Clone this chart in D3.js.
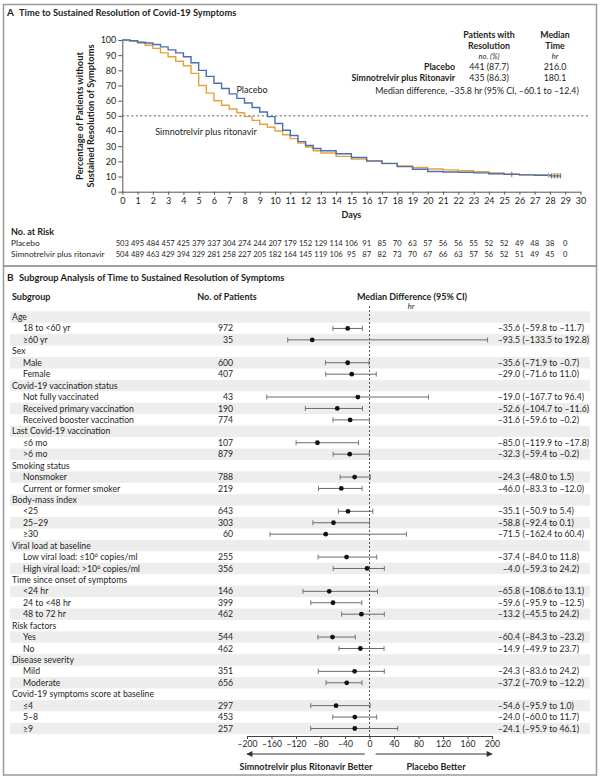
<!DOCTYPE html>
<html>
<head>
<meta charset="utf-8">
<script src="https://cdn.jsdelivr.net/npm/d3@7"></script>
<style>
  body { margin: 0; background: #fff; }
  svg { font-family: Lato, "Open Sans", sans-serif; fill: #231f20; }
  .bold { font-weight: bold; }
  .it { font-style: italic; }
</style>
</head>
<body>
<div id="chart"></div>
<script>
// ---- panel A data ----
var kmDays = [0, 0.5, 1, 1.5, 2, 2.5, 3, 3.5, 4, 4.5, 5, 5.5, 6, 6.5, 7, 7.5, 8, 8.5, 9, 9.5, 10, 10.5, 11, 11.5, 12, 12.5, 13, 14, 15, 16, 17, 18, 19, 20, 21, 22, 23, 24, 25, 26, 27, 28, 28.7];
var placeboPct = [100, 99.5, 98.5, 98, 97, 95.5, 93.5, 91.5, 89, 85, 80, 76, 71.5, 68, 64.5, 61.5, 58.5, 55.5, 52.5, 49.5, 45, 40.5, 37, 33, 30.5, 28.5, 27, 25, 22.5, 20.3, 18.7, 16.5, 14.8, 13.3, 13, 12.8, 12.4, 11.8, 11.4, 11.1, 10.8, 10.4, 10.4];
var simnoPct = [100, 99.3, 98, 96.5, 94.5, 91.5, 89, 86, 83, 78, 70, 65, 60, 57, 54.5, 52, 49.5, 47, 44.5, 42.5, 40, 37.5, 35, 32, 29.5, 27, 25.5, 23.3, 21.5, 20, 18.5, 17, 16, 15, 14.4, 13.9, 13.2, 12.3, 11.7, 11.2, 10.9, 10.6, 10.6];
var censorPlacebo = [25.5, 28.1, 28.3, 28.5, 28.7];
var censorSimno = [27.9, 28.2, 28.4, 28.6];
var riskDays = d3.range(0, 30);
var riskPlacebo = [503, 495, 484, 457, 425, 379, 337, 304, 274, 244, 207, 179, 152, 129, 114, 106, 91, 85, 70, 63, 57, 56, 56, 55, 52, 52, 49, 48, 38, 0];
var riskSimno = [504, 489, 463, 429, 394, 329, 281, 258, 227, 205, 182, 164, 145, 119, 106, 95, 87, 82, 73, 70, 67, 66, 63, 57, 56, 52, 51, 49, 45, 0];
var xTicksDays = d3.range(0, 31);
var yTicksPct = d3.range(0, 101, 10);

// ---- panel B data ----
var subgroups = ["Age", "18 to <60 yr", "\u226560 yr", "Sex", "Male", "Female",
  "Covid-19 vaccination status", "Not fully vaccinated", "Received primary vaccination", "Received booster vaccination",
  "Last Covid-19 vaccination", "\u22646 mo", ">6 mo",
  "Smoking status", "Nonsmoker", "Current or former smoker",
  "Body-mass index", "<25", "25\u201329", "\u226530",
  "Viral load at baseline", "Low viral load: \u226410^6 copies/ml", "High viral load: >10^6 copies/ml",
  "Time since onset of symptoms", "<24 hr", "24 to <48 hr", "48 to 72 hr",
  "Risk factors", "Yes", "No",
  "Disease severity", "Mild", "Moderate",
  "Covid-19 symptoms score at baseline", "\u22644", "5\u20138", "\u22659"];
var patients = [null, 972, 35, null, 600, 407, null, 43, 190, 774, null, 107, 879, null, 788, 219,
  null, 643, 303, 60, null, 255, 356, null, 146, 399, 462, null, 544, 462, null, 351, 656, null, 297, 453, 257];
var medDiff = [null, -35.6, -93.5, null, -35.6, -29.0, null, -19.0, -52.6, -31.6, null, -85.0, -32.3, null, -24.3, -46.0,
  null, -35.1, -58.8, -71.5, null, -37.4, -4.0, null, -65.8, -59.6, -13.2, null, -60.4, -14.9, null, -24.3, -37.2, null, -54.6, -24.0, -24.1];
var ciLow = [null, -59.8, -133.5, null, -71.9, -71.6, null, -167.7, -104.7, -59.6, null, -119.9, -59.4, null, -48.0, -83.3,
  null, -50.9, -92.4, -162.4, null, -84.0, -59.3, null, -108.6, -95.9, -45.5, null, -84.3, -49.9, null, -83.6, -70.9, null, -95.9, -60.0, -95.9];
var ciHigh = [null, -11.7, 192.8, null, -0.7, 11.0, null, 96.4, -11.6, -0.2, null, -17.8, -0.2, null, 1.5, -12.0,
  null, 5.4, 0.1, 60.4, null, 11.8, 24.2, null, 13.1, -12.5, 24.2, null, -23.2, 23.7, null, 24.2, -12.2, null, 1.0, 11.7, 46.1];
var diffTicks = d3.range(-200, 201, 40);

var blue = "#4a6fb0", orange = "#e8a23a", ink = "#231f20";
var fmt = d3.format(".1f");
function num(v) { return fmt(v).replace("\u2212", "\u2013"); }

var svg = d3.select("#chart").append("svg")
    .attr("width", 600)
    .attr("height", 780);

// frames
svg.append("rect").attr("x", 3.5).attr("y", 4.5).attr("width", 593).attr("height", 261.5)
    .attr("fill", "none").attr("stroke", "#9a9a9a").attr("stroke-width", 1.5);
svg.append("rect").attr("x", 3.5).attr("y", 266).attr("width", 593).attr("height", 509)
    .attr("fill", "none").attr("stroke", "#9a9a9a").attr("stroke-width", 1.5);

// ================= panel A =================
svg.append("text").attr("x", 7).attr("y", 16).attr("class", "bold").attr("font-size", 10).text("A");
svg.append("text").attr("x", 19).attr("y", 16).attr("class", "bold").attr("font-size", 9.3)
    .text("Time to Sustained Resolution of Covid-19 Symptoms");

var x = d3.scaleLinear().domain([0, 30]).range([122.3, 580.5]);
var y = d3.scaleLinear().domain([0, 100]).range([191.7, 40]);

var xaxis = d3.axisBottom(x).tickValues(xTicksDays).tickSize(3).tickSizeOuter(0).tickPadding(3);
var yaxis = d3.axisLeft(y).tickValues(yTicksPct).tickSize(4).tickSizeOuter(0).tickPadding(2);

var gx = svg.append('g').attr("transform", "translate(0," + y(0) + ")").call(xaxis);
var gy = svg.append('g').attr("transform", "translate(" + x(0) + ",0)").call(yaxis);
[gx, gy].forEach(function (g) {
    g.selectAll("path, line").attr("stroke", "#555");
    g.selectAll("text").attr("font-size", 9).attr("fill", ink).attr("font-family", "Lato, sans-serif");
});

svg.append("text").attr("x", (x(0) + x(30)) / 2).attr("y", 218).attr("text-anchor", "middle")
    .attr("class", "bold").attr("font-size", 9).text("Days");

var ylab = svg.append("text").attr("transform", "translate(83,116) rotate(-90)")
    .attr("text-anchor", "middle").attr("class", "bold").attr("font-size", 9.3);
ylab.append("tspan").attr("x", 0).attr("y", 0).text("Percentage of Patients without");
ylab.append("tspan").attr("x", 0).attr("y", 10.5).text("Sustained Resolution of Symptoms");

// 50% reference
svg.append("line").attr("x1", x(0)).attr("x2", 588).attr("y1", y(50)).attr("y2", y(50))
    .attr("stroke", "#555").attr("stroke-dasharray", "2,2.5").attr("stroke-width", 1);

var line = d3.line()
    .x(function (d) { return x(d[0]); })
    .y(function (d) { return y(d[1]); })
    .curve(d3.curveStepAfter);

var simnoPts = kmDays.map(function (d, i) { return [d, simnoPct[i]]; });
var placeboPts = kmDays.map(function (d, i) { return [d, placeboPct[i]]; });

svg.append("path").attr("d", line(simnoPts)).attr("fill", "none").attr("stroke", orange).attr("stroke-width", 1.4);
svg.append("path").attr("d", line(placeboPts)).attr("fill", "none").attr("stroke", blue).attr("stroke-width", 1.4);

function valueAt(days, pct, t) {
    var i = d3.bisectRight(days, t) - 1;
    return pct[Math.max(0, i)];
}
svg.selectAll(".cs").data(censorSimno).enter().append("line")
    .attr("x1", function (d) { return x(d); }).attr("x2", function (d) { return x(d); })
    .attr("y1", function (d) { return y(valueAt(kmDays, simnoPct, d)) - 2.5; })
    .attr("y2", function (d) { return y(valueAt(kmDays, simnoPct, d)) + 2.5; })
    .attr("stroke", orange).attr("stroke-width", 1);
svg.selectAll(".cp").data(censorPlacebo).enter().append("line")
    .attr("x1", function (d) { return x(d); }).attr("x2", function (d) { return x(d); })
    .attr("y1", function (d) { return y(valueAt(kmDays, placeboPct, d)) - 2.5; })
    .attr("y2", function (d) { return y(valueAt(kmDays, placeboPct, d)) + 2.5; })
    .attr("stroke", blue).attr("stroke-width", 1);

svg.append("text").attr("x", 252).attr("y", 93).attr("text-anchor", "middle").attr("font-size", 9).text("Placebo");
svg.append("text").attr("x", 206).attr("y", 135).attr("text-anchor", "middle").attr("font-size", 9).text("Simnotrelvir plus ritonavir");

// summary table
var tb = svg.append("g").attr("font-size", 8.8);
tb.append("text").attr("x", 489).attr("y", 38).attr("text-anchor", "middle").attr("class", "bold").text("Patients with");
tb.append("text").attr("x", 489).attr("y", 49).attr("text-anchor", "middle").attr("class", "bold").text("Resolution");
tb.append("text").attr("x", 489).attr("y", 59).attr("text-anchor", "middle").attr("class", "it").attr("font-size", 7.5).text("no. (%)");
tb.append("text").attr("x", 555).attr("y", 38).attr("text-anchor", "middle").attr("class", "bold").text("Median");
tb.append("text").attr("x", 555).attr("y", 49).attr("text-anchor", "middle").attr("class", "bold").text("Time");
tb.append("text").attr("x", 555).attr("y", 59).attr("text-anchor", "middle").attr("class", "it").attr("font-size", 7.5).text("hr");
tb.append("text").attr("x", 455).attr("y", 70).attr("text-anchor", "end").attr("class", "bold").text("Placebo");
tb.append("text").attr("x", 455).attr("y", 80.5).attr("text-anchor", "end").attr("class", "bold").text("Simnotrelvir plus Ritonavir");
tb.append("text").attr("x", 489).attr("y", 70).attr("text-anchor", "middle").text("441 (87.7)");
tb.append("text").attr("x", 489).attr("y", 80.5).attr("text-anchor", "middle").text("435 (86.3)");
tb.append("text").attr("x", 555).attr("y", 70).attr("text-anchor", "middle").text("216.0");
tb.append("text").attr("x", 555).attr("y", 80.5).attr("text-anchor", "middle").text("180.1");
tb.append("text").attr("x", 477).attr("y", 94).attr("text-anchor", "middle")
    .text("Median difference, \u201335.8 hr (95% CI, \u201360.1 to \u201312.4)");

// number at risk
svg.append("text").attr("x", 11).attr("y", 235).attr("class", "bold").attr("font-size", 9).text("No. at Risk");
svg.append("text").attr("x", 11).attr("y", 246).attr("font-size", 8.3).text("Placebo");
svg.append("text").attr("x", 11).attr("y", 256.5).attr("font-size", 8.3).text("Simnotrelvir plus ritonavir");
svg.selectAll(".rp").data(riskPlacebo).enter().append("text")
    .attr("x", function (d, i) { return x(riskDays[i]); }).attr("y", 246)
    .attr("text-anchor", "middle").attr("font-size", 7.6).text(function (d) { return d; });
svg.selectAll(".rs").data(riskSimno).enter().append("text")
    .attr("x", function (d, i) { return x(riskDays[i]); }).attr("y", 256.5)
    .attr("text-anchor", "middle").attr("font-size", 7.6).text(function (d) { return d; });

// ================= panel B =================
svg.append("text").attr("x", 7).attr("y", 281).attr("class", "bold").attr("font-size", 10).text("B");
svg.append("text").attr("x", 19).attr("y", 281).attr("class", "bold").attr("font-size", 9.3)
    .text("Subgroup Analysis of Time to Sustained Resolution of Symptoms");

svg.append("text").attr("x", 12).attr("y", 300).attr("class", "bold").attr("font-size", 9).text("Subgroup");
svg.append("text").attr("x", 227).attr("y", 300).attr("text-anchor", "middle").attr("class", "bold").attr("font-size", 9).text("No. of Patients");
svg.append("text").attr("x", 412).attr("y", 300).attr("text-anchor", "middle").attr("class", "bold").attr("font-size", 9).text("Median Difference (95% CI)");
svg.append("text").attr("x", 411).attr("y", 309).attr("text-anchor", "middle").attr("class", "it").attr("font-size", 7.5).text("hr");

var fx = d3.scaleLinear().domain([-200, 200]).range([247, 492]);
var fy = d3.scaleBand().domain(d3.range(subgroups.length)).range([311.3, 311.3 + 37 * 11.43]);
var rowMid = function (i) { return fy(i) + fy.bandwidth() / 2; };

svg.selectAll(".stripe").data(d3.range(subgroups.length).filter(function (i) { return i % 2 === 0; }))
    .enter().append("rect")
    .attr("x", 10).attr("width", 580)
    .attr("y", function (i) { return fy(i); })
    .attr("height", fy.bandwidth())
    .attr("fill", "#ededed");

// zero line
svg.append("line").attr("x1", fx(0)).attr("x2", fx(0)).attr("y1", 306).attr("y2", 736)
    .attr("stroke", "#444").attr("stroke-dasharray", "2,2").attr("stroke-width", 0.9);

var rows = svg.append("g").attr("font-size", 8.7);
rows.selectAll(".lab").data(subgroups).enter().append("text")
    .attr("x", function (d, i) { return patients[i] === null ? 12 : 23; })
    .attr("y", function (d, i) { return rowMid(i); })
    .attr("dy", "0.35em")
    .each(function (d) {
        // "10^6" -> 10 with a raised 6
        var parts = d.split("^6");
        var t = d3.select(this);
        t.append("tspan").text(parts[0]);
        if (parts.length > 1) {
            t.append("tspan").attr("dy", -3).attr("font-size", 6).text("6");
            t.append("tspan").attr("dy", 3).text(parts[1]);
        }
    });

rows.selectAll(".n").data(patients).enter().append("text")
    .attr("x", 233).attr("text-anchor", "end")
    .attr("y", function (d, i) { return rowMid(i); })
    .attr("dy", "0.35em")
    .text(function (d) { return d === null ? "" : d; });

rows.selectAll(".est").data(medDiff).enter().append("text")
    .attr("x", 520).attr("text-anchor", "end")
    .attr("y", function (d, i) { return rowMid(i); })
    .attr("dy", "0.35em")
    .text(function (d) { return d === null ? "" : num(d); });

rows.selectAll(".ci").data(ciLow).enter().append("text")
    .attr("x", 522.5)
    .attr("y", function (d, i) { return rowMid(i); })
    .attr("dy", "0.35em")
    .text(function (d, i) { return d === null ? "" : "(" + num(d) + " to " + num(ciHigh[i]) + ")"; });

var idx = d3.range(subgroups.length).filter(function (i) { return medDiff[i] !== null; });
var marks = svg.append("g");
marks.selectAll(".ciline").data(idx).enter().append("line")
    .attr("x1", function (i) { return fx(ciLow[i]); })
    .attr("x2", function (i) { return fx(ciHigh[i]); })
    .attr("y1", rowMid).attr("y2", rowMid)
    .attr("stroke", "#6a6a6a").attr("stroke-width", 1);
marks.selectAll(".capL").data(idx).enter().append("line")
    .attr("x1", function (i) { return fx(ciLow[i]); })
    .attr("x2", function (i) { return fx(ciLow[i]); })
    .attr("y1", function (i) { return rowMid(i) - 2.5; })
    .attr("y2", function (i) { return rowMid(i) + 2.5; })
    .attr("stroke", "#6a6a6a").attr("stroke-width", 0.9);
marks.selectAll(".capR").data(idx).enter().append("line")
    .attr("x1", function (i) { return fx(ciHigh[i]); })
    .attr("x2", function (i) { return fx(ciHigh[i]); })
    .attr("y1", function (i) { return rowMid(i) - 2.5; })
    .attr("y2", function (i) { return rowMid(i) + 2.5; })
    .attr("stroke", "#6a6a6a").attr("stroke-width", 0.9);
marks.selectAll("circle").data(idx).enter().append("circle")
    .attr("cx", function (i) { return fx(medDiff[i]); })
    .attr("cy", rowMid)
    .attr("r", 2.4)
    .attr("fill", "#111");

var faxis = d3.axisBottom(fx).tickValues(diffTicks).tickSize(3).tickSizeOuter(0).tickPadding(2)
    .tickFormat(function (d) { return d < 0 ? "\u2013" + Math.abs(d) : d; });
var gf = svg.append("g").attr("transform", "translate(0,736)").call(faxis);
gf.selectAll("path, line").attr("stroke", "#444");
gf.selectAll("text").attr("font-size", 8.6).attr("fill", ink).attr("font-family", "Lato, sans-serif");

// arrows
var defs = svg.append("defs");
defs.append("marker").attr("id", "ah").attr("viewBox", "0 0 10 10").attr("refX", 9).attr("refY", 5)
    .attr("markerWidth", 6).attr("markerHeight", 5).attr("orient", "auto-start-reverse")
    .append("path").attr("d", "M0,0 L10,5 L0,10 z").attr("fill", "#333");
svg.append("line").attr("x1", fx(-8)).attr("x2", fx(-200)).attr("y1", 754).attr("y2", 754)
    .attr("stroke", "#333").attr("stroke-width", 1.2).attr("marker-end", "url(#ah)");
svg.append("line").attr("x1", fx(10)).attr("x2", fx(200)).attr("y1", 754).attr("y2", 754)
    .attr("stroke", "#333").attr("stroke-width", 1.2).attr("marker-end", "url(#ah)");
svg.append("text").attr("x", 306).attr("y", 770).attr("text-anchor", "middle").attr("class", "bold").attr("font-size", 9)
    .text("Simnotrelvir plus Ritonavir Better");
svg.append("text").attr("x", 436).attr("y", 770).attr("text-anchor", "middle").attr("class", "bold").attr("font-size", 9)
    .text("Placebo Better");
</script>
</body>
</html>
